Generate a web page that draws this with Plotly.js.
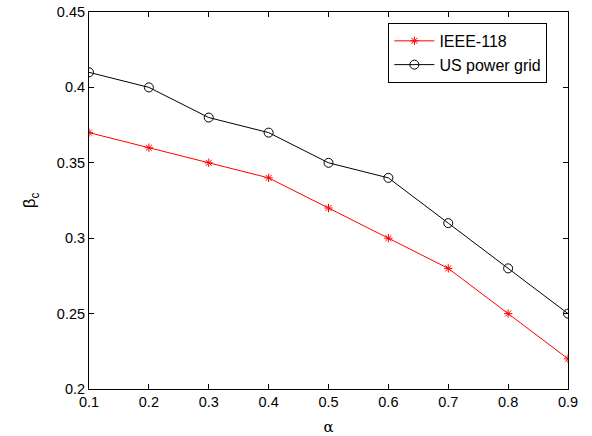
<!DOCTYPE html>
<html><head><meta charset="utf-8">
<script src="https://cdn.plot.ly/plotly-3.0.1.min.js"></script>
<style>html,body{margin:0;padding:0;background:#fff}</style>
</head><body><div id="chart" style="width:592px;height:436px"></div>
<script>
const alpha = [0.1, 0.2, 0.3, 0.4, 0.5, 0.6, 0.7, 0.8, 0.9];
const ieee118 = [0.37, 0.36, 0.35, 0.34, 0.32, 0.30, 0.28, 0.25, 0.22];
const usGrid = [0.41, 0.40, 0.38, 0.37, 0.35, 0.34, 0.31, 0.28, 0.25];
const xTicks = [0.1,0.2,0.3,0.4,0.5,0.6,0.7,0.8,0.9];
const yTicks = [0.2,0.25,0.3,0.35,0.4,0.45];

const traces = [
 {x: alpha, y: ieee118, name: 'IEEE-118', mode: 'lines+markers', type: 'scatter',
  line: {color: '#ff0000', width: 1}, marker: {symbol: 'asterisk-open', size: 7, color: '#ff0000', line: {color: '#ff0000', width: 1}}},
 {x: alpha, y: usGrid, name: 'US power grid', mode: 'lines+markers', type: 'scatter',
  line: {color: '#000000', width: 1}, marker: {symbol: 'circle-open', size: 9, color: '#000000', line: {color: '#000000', width: 1}}}
];
const font = {family: 'Liberation Sans, Arial, sans-serif', size: 14, color: '#000'};
const layout = {
 width: 592, height: 436,
 margin: {l: 89, r: 24, t: 12, b: 47},
 paper_bgcolor: '#fff', plot_bgcolor: '#fff',
 font: font,
 showlegend: true,
 legend: {x: 0.625, y: 0.971, xanchor: 'left', yanchor: 'top', bgcolor: '#fff', bordercolor: '#000', borderwidth: 1,
   font: {family: 'Liberation Sans, Arial, sans-serif', size: 16, color: '#000'}, tracegroupgap: 0, itemwidth: 40},
 xaxis: {range: [0.1, 0.9], tickvals: xTicks, ticktext: xTicks.map(v => v.toFixed(1)), ticks: 'inside', ticklen: 5,
   tickcolor: '#000', showline: true, linecolor: '#000', linewidth: 1, mirror: 'ticks', showgrid: false, zeroline: false,
   tickfont: {size: 14.5},
   title: {text: 'α', font: {family: 'DejaVu Serif, serif', size: 15}, standoff: 16}},
 yaxis: {range: [0.2, 0.45], tickvals: yTicks, ticktext: ['0.2','0.25','0.3','0.35','0.4','0.45'], ticks: 'inside', ticklen: 5,
   tickcolor: '#000', showline: true, linecolor: '#000', linewidth: 1, mirror: 'ticks', showgrid: false, zeroline: false,
   tickfont: {size: 14.5},
   title: {text: 'β<sub>c</sub>', font: {family: 'Liberation Sans, Arial, sans-serif', size: 17}, standoff: 16}}
};
Plotly.newPlot('chart', traces, layout, {displayModeBar: false, staticPlot: true});
</script></body></html>
